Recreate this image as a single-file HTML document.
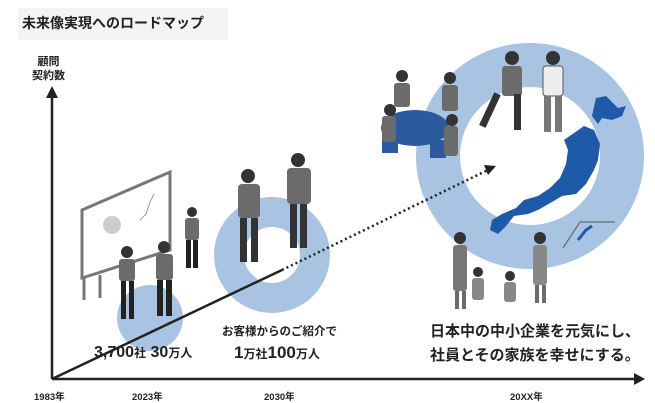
<!DOCTYPE html>
<html><head><meta charset="utf-8"><style>
body{margin:0;background:#fff;width:655px;height:403px;overflow:hidden;position:relative;font-family:"Liberation Sans","Noto Sans CJK JP",sans-serif;color:#222}
.t{position:absolute;white-space:nowrap;font-weight:bold}
</style></head><body>
<svg width="655" height="403" style="position:absolute;left:0;top:0">
<rect x="18" y="8" width="210" height="32" fill="#f4f4f4"/>
<circle cx="150" cy="318" r="33" fill="#a8c4e2"/>
<circle cx="272" cy="255" r="43" fill="none" stroke="#a8c4e2" stroke-width="30"/>
<ellipse cx="530" cy="156" rx="92" ry="91" fill="none" stroke="#a8c4e2" stroke-width="44"/>
<!-- whiteboard -->
<polygon points="82,210 170,172 170,250 82,278" fill="#fff" stroke="#777" stroke-width="3"/>
<line x1="84" y1="278" x2="84" y2="300" stroke="#777" stroke-width="3"/><line x1="100" y1="275" x2="100" y2="298" stroke="#777" stroke-width="3"/>
<circle cx="112" cy="225" r="9" fill="#ccc"/><path d="M140 220 l6 -6 l4 -12 l4 -8" stroke="#999" fill="none"/>
<g fill="#6b6b6b">
<circle cx="127" cy="252" r="6" fill="#333"/><rect x="119" y="259" width="16" height="22" rx="3"/><rect x="121" y="281" width="5" height="38" fill="#222"/><rect x="129" y="281" width="5" height="38" fill="#222"/>
<circle cx="164" cy="247" r="6" fill="#333"/><rect x="156" y="254" width="17" height="26" rx="3"/><rect x="157" y="280" width="6" height="36" fill="#222"/><rect x="166" y="280" width="6" height="36" fill="#222"/>
<circle cx="192" cy="212" r="5" fill="#333"/><rect x="185" y="218" width="14" height="22" rx="3"/><rect x="186" y="240" width="5" height="28" fill="#222"/><rect x="193" y="240" width="5" height="28" fill="#222"/>
<circle cx="248" cy="176" r="7" fill="#333"/><rect x="238" y="184" width="22" height="34" rx="4"/><rect x="240" y="218" width="7" height="44" fill="#333"/><rect x="251" y="218" width="7" height="44" fill="#333"/>
<circle cx="298" cy="160" r="7" fill="#333"/><rect x="287" y="168" width="24" height="36" rx="4"/><rect x="290" y="204" width="7" height="44" fill="#333"/><rect x="300" y="204" width="7" height="44" fill="#333"/>
<!-- meeting -->
<rect x="382" y="135" width="16" height="18" fill="#2c5a9e"/><rect x="430" y="140" width="16" height="18" fill="#2c5a9e"/>
<ellipse cx="415" cy="128" rx="34" ry="18" fill="#2c5a9e"/>
<circle cx="402" cy="76" r="6" fill="#333"/><rect x="394" y="83" width="16" height="24" rx="3"/>
<circle cx="450" cy="78" r="6" fill="#333"/><rect x="442" y="85" width="16" height="26" rx="3"/>
<circle cx="390" cy="110" r="6" fill="#333"/><rect x="382" y="116" width="14" height="26" rx="3"/>
<circle cx="452" cy="120" r="6" fill="#333"/><rect x="444" y="126" width="14" height="30" rx="3"/>
<circle cx="512" cy="58" r="7" fill="#333"/><rect x="502" y="66" width="20" height="30" rx="3"/><rect x="494" y="94" width="7" height="36" transform="rotate(25 498 94)" fill="#333"/><rect x="514" y="94" width="7" height="36" fill="#333"/>
<circle cx="553" cy="58" r="7" fill="#333"/><rect x="543" y="66" width="20" height="30" rx="3" fill="#eee" stroke="#555"/><rect x="544" y="96" width="7" height="36" fill="#777"/><rect x="555" y="96" width="7" height="36" fill="#777"/>
<!-- family -->
<circle cx="460" cy="238" r="6" fill="#333"/><rect x="453" y="245" width="14" height="46" rx="3" fill="#777"/><rect x="455" y="291" width="4" height="18"/><rect x="462" y="291" width="4" height="18"/>
<circle cx="478" cy="272" r="5" fill="#333"/><rect x="472" y="278" width="12" height="22" rx="3" fill="#888"/>
<circle cx="510" cy="276" r="5" fill="#333"/><rect x="504" y="282" width="12" height="20" rx="3" fill="#888"/>
<circle cx="540" cy="238" r="6" fill="#333"/><rect x="533" y="245" width="14" height="40" rx="3" fill="#888"/><rect x="535" y="285" width="4" height="18"/><rect x="542" y="285" width="4" height="18"/>
</g>
<!-- japan -->
<path d="M596 98 l10 -2 l12 12 l8 -2 l-4 10 l-10 4 l-10 -2 l-4 6 l-6 -8 z M584 126 l10 4 l6 14 l-2 16 l-4 10 l-8 14 l-10 10 l-14 2 l-10 6 l-14 8 l-10 4 l-14 2 l-8 10 l-8 8 l-8 -4 l2 -10 l10 -6 l14 -6 l8 -8 l14 -4 l12 -8 l10 -10 l6 -14 l2 -14 l-4 -10 z" fill="#1f5aa8"/>
<line x1="563" y1="248" x2="580" y2="222" stroke="#555"/><line x1="580" y1="222" x2="615" y2="222" stroke="#555"/>
<path d="M578 240 l8 -10 l6 -4" stroke="#1f5aa8" stroke-width="3" fill="none"/>
<!-- axes -->
<line x1="52" y1="96" x2="52" y2="379" stroke="#222" stroke-width="2.5"/>
<polygon points="46,98 58,98 52,86" fill="#222"/>
<line x1="52" y1="379" x2="635" y2="379" stroke="#222" stroke-width="2.5"/>
<polygon points="634,373 634,385 645,379" fill="#222"/>
<line x1="52" y1="379" x2="282" y2="270" stroke="#222" stroke-width="2.5"/>
<line x1="282" y1="270" x2="488" y2="170" stroke="#222" stroke-width="2.5" stroke-dasharray="2,3"/>
<polygon points="484,165 496,166 488,175" fill="#222"/>
</svg>
<div class="t" style="left:22px;top:13px;font-size:14px">未来像実現へのロードマップ</div>
<div class="t" style="left:32px;top:55px;font-size:11px;line-height:14px;text-align:center">顧問<br>契約数</div>
<div class="t" style="left:94px;top:344px;font-size:16px">3,700<span style="font-size:12px">社</span> 30<span style="font-size:12px">万人</span></div>
<div class="t" style="left:222px;top:323px;font-size:11.5px">お客様からのご紹介で</div>
<div class="t" style="left:234px;top:343px;font-size:17px">1<span style="font-size:12px">万社</span>100<span style="font-size:12px">万人</span></div>
<div class="t" style="left:430px;top:320px;font-size:15px">日本中の中小企業を元気にし、</div>
<div class="t" style="left:430px;top:344px;font-size:15px">社員とその家族を幸せにする。</div>
<div class="t" style="left:34px;top:389px;font-size:9.5px">1983年</div>
<div class="t" style="left:132px;top:389px;font-size:9.5px">2023年</div>
<div class="t" style="left:264px;top:389px;font-size:9.5px">2030年</div>
<div class="t" style="left:510px;top:389px;font-size:9.5px">20XX年</div>
</body></html>
